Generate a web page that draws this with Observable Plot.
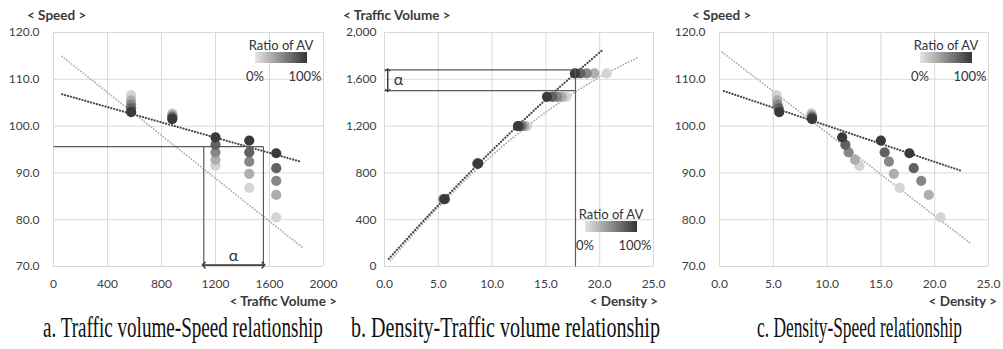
<!DOCTYPE html>
<html><head><meta charset="utf-8">
<script src="https://cdn.jsdelivr.net/npm/d3@7"></script>
<script src="https://cdn.jsdelivr.net/npm/@observablehq/plot@0.6"></script>
<style>
body{margin:0;background:#fff;}
#wrap{position:relative;width:1003px;height:349px;overflow:hidden;font-family:Lato,"Noto Sans",sans-serif;color:#404040;}
.panel{position:absolute;top:0;}
.ttl{position:absolute;font-weight:700;font-size:13.5px;white-space:nowrap;line-height:14px;color:#3a3a3a;}
.lt{position:absolute;font-size:13px;line-height:14px;white-space:nowrap;text-align:center;width:90px;color:#333;}
.bar{position:absolute;width:52px;height:11px;background:linear-gradient(to right,#e4e4e4,#353535);}
</style></head><body><div id="wrap"></div>
<script>
// ---- data ----
const avRatios = [0, 25, 50, 75, 100];           // Ratio of AV (%)
const volumes = [575, 880, 1200, 1450, 1650];    // traffic volume groups
// speed for each AV ratio (panels a and c)
const speedAV0   = [106.6, 102.7, 91.5, 86.8, 80.5];
const speedAV25  = [105.5, 102.4, 92.8, 89.8, 85.3];
const speedAV50  = [104.6, 102.1, 94.4, 92.4, 88.3];
const speedAV75  = [103.8, 101.8, 96.0, 94.4, 91.0];
const speedAV100 = [103.0, 101.5, 97.6, 96.9, 94.2];
// density, panel b
const densB0   = [5.40, 8.60, 13.25, 16.90, 20.65];
const densB25  = [5.45, 8.60, 13.00, 16.50, 19.50];
const densB50  = [5.50, 8.65, 12.80, 16.05, 18.80];
const densB75  = [5.55, 8.65, 12.60, 15.60, 18.20];
const densB100 = [5.60, 8.70, 12.40, 15.10, 17.70];
// density, panel c
const densC0   = [5.30, 8.55, 13.00, 16.75, 20.55];
const densC25  = [5.35, 8.55, 12.60, 16.20, 19.45];
const densC50  = [5.40, 8.60, 12.00, 15.75, 18.75];
const densC75  = [5.50, 8.60, 11.70, 15.35, 18.05];
const densC100 = [5.55, 8.60, 11.40, 15.00, 17.65];
// dotted trend lines (0% = light, 100% = dark)
const trendA0   = {x: [64, 1842], y: [114.9, 74.1]};
const trendA100 = {x: [64, 1830], y: [106.8, 92.4]};
const trendB0   = {x: [0.55, 4, 8, 12, 16, 20, 23.6], y: [51, 409, 781, 1106, 1385, 1618, 1789]};
const trendB100 = {x: [0.4, 4, 8, 12, 16, 20.2], y: [66, 427, 809, 1170, 1511, 1846]};
const trendC0   = {x: [0.25, 23.3], y: [115.8, 75.0]};
const trendC100 = {x: [0.4, 22.4], y: [107.5, 90.5]};
// reference (alpha) lines
const refASpeed = 95.6, refAVolumes = [1113, 1555], refAArrowSpeed = 70.3;
const refBVolumes = [1504, 1681], refBDensity = 17.75, refBArrowDensity = 0.3;
// ticks
const ticksVolumeA = [0, 400, 800, 1200, 1600, 2000];
const ticksSpeed = [70, 80, 90, 100, 110, 120];
const ticksDensity = [0, 5, 10, 15, 20, 25];
const ticksVolumeB = [0, 400, 800, 1200, 1600, 2000];
const captions = ["a. Traffic volume-Speed relationship", "b. Density-Traffic volume relationship", "c. Density-Speed relationship"];

// ---- build table ----
const speedSeries = [speedAV0, speedAV25, speedAV50, speedAV75, speedAV100];
const densBSeries = [densB0, densB25, densB50, densB75, densB100];
const densCSeries = [densC0, densC25, densC50, densC75, densC100];
const table = avRatios.flatMap((r, i) => volumes.map((v, j) => ({
  ratio: r, volume: v, speed: speedSeries[i][j], densB: densBSeries[i][j], densC: densCSeries[i][j]
})));
const pts = t => t.x.map((x, i) => ({x, y: t.y[i]}));

const color = {type: "linear", domain: [0, 100], range: ["#d4d4d4", "#3a3a3a"]};
const gridStyle = {stroke: "#d9d9d9", strokeOpacity: 1, strokeWidth: 1};
const lightTrend = {x: "x", y: "y", stroke: "#ababab", strokeWidth: 1.7, strokeDasharray: "0.2,2.8", strokeLinecap: "round", curve: "catmull-rom"};
const darkTrend = {x: "x", y: "y", stroke: "#464646", strokeWidth: 2.1, strokeDasharray: "0.2,2.8", strokeLinecap: "round", curve: "catmull-rom"};
const refStyle = {x1: "x1", y1: "y1", x2: "x2", y2: "y2", stroke: "#5a5a5a", strokeWidth: 1.2};
const arrowStyle = {x1: "x1", y1: "y1", x2: "x2", y2: "y2", stroke: "#3a3a3a", strokeWidth: 1.4, markerEnd: "arrow"};
const style = {fontFamily: "Lato, 'Noto Sans', sans-serif", fontSize: "12px", color: "#404040", background: "transparent", overflow: "visible"};
const dotR = 5.1;

const wrap = document.getElementById("wrap");
function place(el, left) { el.classList.add("panel"); el.style.left = left + "px"; wrap.appendChild(el); }

// Panel a
const pa = Plot.plot({
  width: 335, height: 310, marginLeft: 53, marginRight: 12, marginTop: 32, marginBottom: 44, style,
  x: {domain: [0, 2000]}, y: {domain: [70, 120]}, color,
  marks: [
    Plot.gridX(ticksVolumeA, gridStyle),
    Plot.gridY(ticksSpeed, gridStyle),
    Plot.axisX(ticksVolumeA, {tickSize: 0, tickPadding: 13, tickFormat: d => String(d), label: null}),
    Plot.axisY(ticksSpeed, {tickSize: 0, tickPadding: 14, tickFormat: d => d.toFixed(1), label: null}),
    Plot.line(pts(trendA0), lightTrend),
    Plot.line(pts(trendA100), darkTrend),
    Plot.dot(table, {x: "volume", y: "speed", fill: "ratio", r: dotR}),
    Plot.link([
      {x1: 0, y1: refASpeed, x2: refAVolumes[1], y2: refASpeed},
      {x1: refAVolumes[0], y1: refASpeed, x2: refAVolumes[0], y2: 70},
      {x1: refAVolumes[1], y1: refASpeed, x2: refAVolumes[1], y2: 70}
    ], refStyle),
    Plot.link([
      {x1: refAVolumes[0], y1: refAArrowSpeed, x2: refAVolumes[1], y2: refAArrowSpeed},
      {x1: refAVolumes[1], y1: refAArrowSpeed, x2: refAVolumes[0], y2: refAArrowSpeed}
    ], arrowStyle),
    Plot.text(["α"], {x: (refAVolumes[0] + refAVolumes[1]) / 2, y: 72.2, fontSize: 16, fill: "#333"})
  ]
});
place(pa, 0);

// Panel b
const pb = Plot.plot({
  width: 335, height: 310, marginLeft: 51, marginRight: 15, marginTop: 32, marginBottom: 44, style,
  x: {domain: [0, 25]}, y: {domain: [0, 2000]}, color,
  marks: [
    Plot.gridX(ticksDensity, gridStyle),
    Plot.gridY(ticksVolumeB, gridStyle),
    Plot.axisX(ticksDensity, {tickSize: 0, tickPadding: 13, tickFormat: d => d.toFixed(1), label: null}),
    Plot.axisY(ticksVolumeB, {tickSize: 0, tickPadding: 8, tickFormat: d3.format(","), label: null}),
    Plot.line(pts(trendB0), lightTrend),
    Plot.line(pts(trendB100), darkTrend),
    Plot.dot(table, {x: "densB", y: "volume", fill: "ratio", r: dotR}),
    Plot.link([
      {x1: 0, y1: refBVolumes[1], x2: refBDensity, y2: refBVolumes[1]},
      {x1: 0, y1: refBVolumes[0], x2: refBDensity, y2: refBVolumes[0]},
      {x1: refBDensity, y1: 0, x2: refBDensity, y2: refBVolumes[1]}
    ], refStyle),
    Plot.link([
      {x1: refBArrowDensity, y1: refBVolumes[0], x2: refBArrowDensity, y2: refBVolumes[1]},
      {x1: refBArrowDensity, y1: refBVolumes[1], x2: refBArrowDensity, y2: refBVolumes[0]}
    ], {...arrowStyle, strokeWidth: 1.1}),
    Plot.text(["α"], {x: 0.85, y: (refBVolumes[0] + refBVolumes[1]) / 2, textAnchor: "start", fontSize: 16, fill: "#333"})
  ]
});
place(pb, 333);

// Panel c
const pc = Plot.plot({
  width: 335, height: 310, marginLeft: 51, marginRight: 15, marginTop: 32, marginBottom: 44, style,
  x: {domain: [0, 25]}, y: {domain: [70, 120]}, color,
  marks: [
    Plot.gridX(ticksDensity, gridStyle),
    Plot.gridY(ticksSpeed, gridStyle),
    Plot.axisX(ticksDensity, {tickSize: 0, tickPadding: 13, tickFormat: d => d.toFixed(1), label: null}),
    Plot.axisY(ticksSpeed, {tickSize: 0, tickPadding: 14, tickFormat: d => d.toFixed(1), label: null}),
    Plot.line(pts(trendC0), lightTrend),
    Plot.line(pts(trendC100), darkTrend),
    Plot.dot(table, {x: "densC", y: "speed", fill: "ratio", r: dotR})
  ]
});
place(pc, 668);

// Axis titles
function div(cls, text, css) {
  const d = document.createElement("div"); d.className = cls; d.textContent = text;
  Object.assign(d.style, css); wrap.appendChild(d); return d;
}
div("ttl", "< Speed >", {left: "27px", top: "8px"});
div("ttl", "< Traffic Volume >", {left: "343px", top: "8px"});
div("ttl", "< Speed >", {left: "692px", top: "8px"});
div("ttl", "< Traffic Volume >", {right: "666px", top: "294px"});
div("ttl", "< Density >", {right: "345px", top: "294px"});
div("ttl", "< Density >", {right: "6px", top: "294px"});

// Legends
function legend(cx, top) {
  div("lt", "Ratio of AV", {left: (cx - 45) + "px", top: top + "px"});
  div("bar", "", {left: (cx - 26) + "px", top: (top + 14) + "px"});
  div("lt", "0%", {left: (cx - 26 - 45) + "px", top: (top + 31) + "px"});
  div("lt", "100%", {left: (cx + 24 - 45) + "px", top: (top + 31) + "px"});
}
legend(281, 38);
legend(611, 207);
legend(946, 38);

// Captions (horizontally condensed serif, as in the reference)
const ns = "http://www.w3.org/2000/svg";
const cap = document.createElementNS(ns, "svg");
cap.setAttribute("width", 1003); cap.setAttribute("height", 49);
Object.assign(cap.style, {position: "absolute", left: "0px", top: "300px"});
wrap.appendChild(cap);
const capPos = [[43, 280], [351, 309], [757, 205]];
captions.forEach((t, i) => {
  const g = document.createElementNS(ns, "g");
  const e = document.createElementNS(ns, "text");
  e.setAttribute("x", 0); e.setAttribute("y", 0);
  e.setAttribute("font-family", "'Liberation Serif', 'DejaVu Serif', serif");
  e.setAttribute("font-size", 29); e.setAttribute("fill", "#111");
  e.textContent = t; g.appendChild(e); cap.appendChild(g);
  const w = e.getComputedTextLength();
  g.setAttribute("transform", `translate(${capPos[i][0]},37) scale(${capPos[i][1] / w},1)`);
});
</script></body></html>
